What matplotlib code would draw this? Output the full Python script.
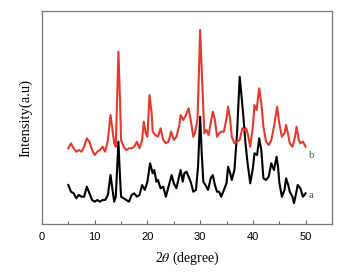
import matplotlib
matplotlib.use("Agg")
import matplotlib.pyplot as plt
from matplotlib.ticker import MultipleLocator

plt.rcParams["mathtext.fontset"] = "stix"

# XRD patterns (2theta in degrees, intensity arbitrary)
two_theta_b = [5, 5.5, 6, 6.5, 7, 7.5, 8, 8.5, 9, 9.5, 10, 10.5, 11, 11.5, 12, 12.5,
               13, 13.3, 13.7, 14, 14.5, 14.8, 15, 15.5, 16, 16.5, 17, 17.5, 18, 18.5,
               19, 19.3, 19.7, 20, 20.4, 20.8, 21, 21.5, 22, 22.5, 23, 23.5, 24, 24.5,
               25, 25.5, 26, 26.3, 26.8, 27.3, 27.8, 28.2, 28.7, 29, 29.5, 30, 30.4,
               30.8, 31.2, 31.6, 32, 32.4, 32.8, 33.2, 33.6, 34, 34.5, 35, 35.3, 35.7,
               36, 36.5, 37, 37.5, 38, 38.4, 38.7, 39, 39.5, 40, 40.3, 40.7, 41.2, 41.6,
               42, 42.5, 43, 43.5, 44, 44.6, 45, 45.5, 46, 46.3, 46.7, 47, 47.5, 48,
               48.3, 48.7, 49, 49.5, 50]
intensity_b = [75.7, 80.7, 75.7, 72.3, 74, 72.3, 77.3, 85.7, 82.3, 74, 69, 72.3, 74, 77.3,
               72.3, 84, 109, 97.3, 80.7, 77.3, 172.3, 124, 84, 77.3, 74, 75.7, 75.7, 77.3,
               82.3, 75.7, 84, 102.3, 90.7, 87.3, 129, 110.7, 92.3, 89, 87.3, 95.7, 84,
               80.7, 82.3, 92.3, 84, 87.3, 97.3, 109, 104, 109, 115.7, 104, 87.3, 90.7,
               104, 194, 140.7, 90.7, 94, 89, 100.7, 112.3, 104, 87.3, 90.7, 92.3, 92.3,
               105.7, 117.3, 104, 87.3, 80.7, 82.3, 84, 95.7, 94, 95.7, 90.7, 77.3, 97.3,
               119, 114, 135.7, 120.7, 97.3, 82.3, 79, 84, 97.3, 117.3, 100.7, 87.3, 90.7,
               99, 89, 80.7, 77.3, 87.3, 97.3, 84, 80.7, 82.3, 77.3]

two_theta_a = [5, 5.5, 6, 6.5, 7, 7.5, 8, 8.5, 9, 9.5, 10, 10.5, 11, 11.5, 12, 12.5,
               13, 13.3, 13.7, 14, 14.5, 14.8, 15, 15.5, 16, 16.5, 17, 17.5, 18, 18.5,
               19, 19.5, 20, 20.5, 21, 21.3, 21.7, 22, 22.5, 23, 23.5, 24, 24.6, 25,
               25.5, 26, 26.3, 26.7, 27, 27.4, 27.8, 28.2, 28.7, 29.2, 29.6, 30, 30.3,
               30.6, 31, 31.5, 32, 32.4, 32.8, 33.2, 33.6, 34, 34.5, 35, 35.3, 35.7, 36,
               36.5, 37, 37.5, 37.8, 38.2, 38.6, 39, 39.5, 40, 40.3, 40.8, 41.2, 41.6,
               42, 42.5, 43, 43.5, 44, 44.5, 44.8, 45, 45.5, 46, 46.3, 46.7, 47, 47.5,
               47.8, 48.2, 48.5, 49, 49.5, 50]
intensity_a = [39, 32.3, 30.7, 25.7, 29, 27.3, 27.3, 37.3, 30.7, 24, 22.3, 24, 22.3, 24,
               24, 29, 49, 37.3, 22.3, 27.3, 82.3, 47.3, 27.3, 25.7, 24, 22.3, 29, 30.7,
               27.3, 29, 39, 34, 42.3, 60.7, 50.7, 54, 42.3, 44, 35.7, 37.3, 27.3, 37.3,
               49, 40.7, 35.7, 47.3, 54, 42.3, 50.7, 52.3, 47.3, 42.3, 32.3, 34, 57.3,
               107.3, 70.7, 42.3, 39, 34, 45.7, 49, 39, 32.3, 32.3, 27.3, 34, 40.7, 57.3,
               50.7, 44, 54, 90.7, 147.3, 130.7, 107.3, 80.7, 60.7, 40.7, 55.7, 70.7, 69,
               85.7, 74, 45.7, 44, 47.3, 60.7, 54, 67.3, 55.7, 42.3, 27.3, 34, 45.7, 39,
               32.3, 27.3, 20.7, 30.7, 39, 35.7, 27.3, 30.7]

x_ticks = [0, 10, 20, 30, 40, 50]

fig = plt.figure(figsize=(3.44, 2.72), dpi=100)
ax = fig.add_axes([0.122, 0.1765, 0.843, 0.783])

ax.plot(two_theta_a, intensity_a, color="black", linewidth=1.5)
ax.plot(two_theta_b, intensity_b, color="#e53a2b", linewidth=1.5)

ax.text(50.6, intensity_a[-1] - 2, "a", family="Liberation Serif", fontsize=7.5,
        color="#555555", va="center")
ax.text(50.6, intensity_b[-1] - 9, "b", family="Liberation Serif", fontsize=7.5,
        color="#555555", va="center")

ax.set_xlim(0, 55)
ax.set_ylim(0, 213)
ax.set_xticks(x_ticks)
ax.xaxis.set_minor_locator(MultipleLocator(5))
ax.set_yticks([])
ax.tick_params(axis="x", which="major", direction="in", length=3, width=0.8,
               color="#666666", labelsize=8, pad=6)
ax.tick_params(axis="x", which="minor", direction="in", length=2, width=0.8,
               color="#666666")
for lbl in ax.get_xticklabels():
    lbl.set_family("Liberation Sans")
for sp in ax.spines.values():
    sp.set_color("#777777")
    sp.set_linewidth(0.9)

ax.set_xlabel(r"2$\mathit{\theta}$ (degree)", family="Liberation Serif", fontsize=10,
              labelpad=5)
ax.set_ylabel("Intensity(a.u)", family="Liberation Serif", fontsize=10.5, labelpad=7)

fig.savefig("out.png", dpi=100)
